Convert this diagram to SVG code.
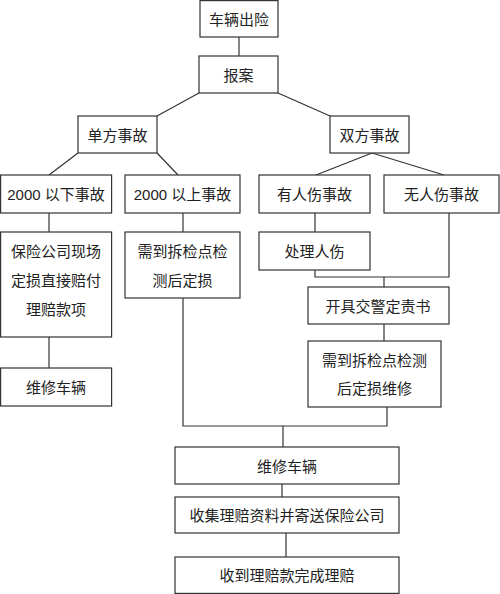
<svg xmlns="http://www.w3.org/2000/svg" width="500" height="594" viewBox="0 0 500 594">
<style>
.box{fill:#fff;stroke:#333;stroke-width:1.2}
.t{font-family:"Liberation Sans","Noto Sans CJK SC",sans-serif;font-size:15px;fill:#222;text-anchor:middle;dominant-baseline:central}
.c{fill:none;stroke:#333;stroke-width:1.2}
</style>
<rect width="500" height="594" fill="#fff"/>
<g id="connectors">
<line class="c" x1="239" y1="37" x2="239" y2="56"/>
<line class="c" x1="199" y1="93" x2="157" y2="116"/>
<line class="c" x1="278" y1="93" x2="330" y2="116"/>
<line class="c" x1="78" y1="153" x2="49" y2="175"/>
<line class="c" x1="157" y1="153" x2="178" y2="175"/>
<line class="c" x1="372" y1="153" x2="316" y2="175"/>
<line class="c" x1="372" y1="153" x2="444" y2="175"/>
<line class="c" x1="49" y1="213" x2="49" y2="232"/>
<line class="c" x1="49" y1="337" x2="49" y2="368"/>
<line class="c" x1="183" y1="213" x2="183" y2="232"/>
<line class="c" x1="315" y1="213" x2="315" y2="232"/>
<polyline class="c" points="315,270 315,277 449,277 449,213"/>
<line class="c" x1="384" y1="277" x2="384" y2="287"/>
<line class="c" x1="384" y1="324" x2="384" y2="341"/>
<polyline class="c" points="183,298 183,426 387,426 387,407"/>
<line class="c" x1="283" y1="426" x2="283" y2="447"/>
<line class="c" x1="282" y1="484" x2="282" y2="497"/>
<line class="c" x1="286" y1="533" x2="286" y2="557"/>
</g>
<g id="n1"><rect class="box" x="200" y="0.6" width="78" height="36.4"/><text class="t" x="239" y="19">车辆出险</text></g>
<g id="n2"><rect class="box" x="199" y="56" width="79" height="37"/><text class="t" x="238.5" y="75">报案</text></g>
<g id="n3"><rect class="box" x="78" y="116" width="79" height="37"/><text class="t" x="117.5" y="135">单方事故</text></g>
<g id="n4"><rect class="box" x="330" y="116" width="79" height="37"/><text class="t" x="369.5" y="135">双方事故</text></g>
<g id="n5"><rect class="box" x="0.6" y="175" width="111" height="38"/><text class="t" x="56" y="194">2000 以下事故</text></g>
<g id="n6"><rect class="box" x="125" y="175" width="115" height="38"/><text class="t" x="182.5" y="194">2000 以上事故</text></g>
<g id="n7"><rect class="box" x="259" y="175" width="111" height="38"/><text class="t" x="314.5" y="194">有人伤事故</text></g>
<g id="n8"><rect class="box" x="384" y="175" width="115" height="38"/><text class="t" x="441.5" y="194">无人伤事故</text></g>
<g id="n9"><rect class="box" x="0.6" y="232" width="111" height="105"/><text class="t" x="56" y="251">保险公司现场</text><text class="t" x="56" y="280">定损直接赔付</text><text class="t" x="56" y="309">理赔款项</text></g>
<g id="n10"><rect class="box" x="125" y="232" width="115" height="66"/><text class="t" x="182.5" y="251">需到拆检点检</text><text class="t" x="182.5" y="280">测后定损</text></g>
<g id="n11"><rect class="box" x="259" y="232" width="111" height="38"/><text class="t" x="314.5" y="251">处理人伤</text></g>
<g id="n12"><rect class="box" x="0.6" y="368" width="111" height="38"/><text class="t" x="56" y="387">维修车辆</text></g>
<g id="n13"><rect class="box" x="308" y="287" width="141" height="37"/><text class="t" x="378" y="306">开具交警定责书</text></g>
<g id="n14"><rect class="box" x="308" y="341" width="133" height="66"/><text class="t" x="374.5" y="360">需到拆检点检测</text><text class="t" x="374.5" y="388">后定损维修</text></g>
<g id="n15"><rect class="box" x="175" y="447" width="224" height="37"/><text class="t" x="287" y="466">维修车辆</text></g>
<g id="n16"><rect class="box" x="175" y="497" width="224" height="36"/><text class="t" x="287" y="515">收集理赔资料并寄送保险公司</text></g>
<g id="n17"><rect class="box" x="175" y="557" width="224" height="36.4"/><text class="t" x="287" y="575">收到理赔款完成理赔</text></g>
</svg>
